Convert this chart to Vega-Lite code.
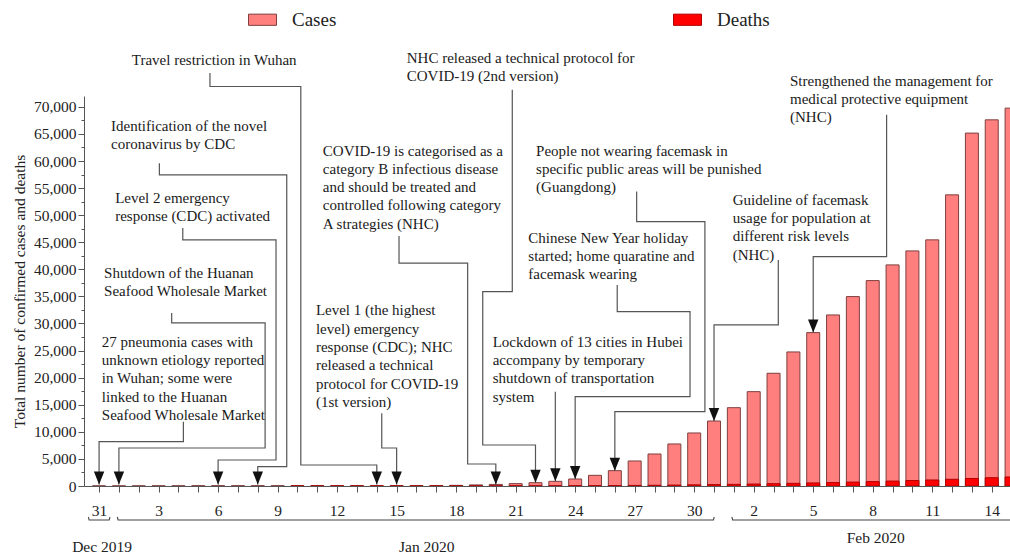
{
  "$schema": "https://vega.github.io/schema/vega-lite/v6.json",
  "width": 926,
  "height": 390,
  "autosize": {"type": "none"},
  "padding": {"left": 84, "top": 96, "right": 0, "bottom": 69},
  "background": "white",
  "config": {
    "view": {"stroke": null},
    "font": "Liberation Serif",
    "text": {"font": "Liberation Serif"},
    "axis": {"labelFont": "Liberation Serif", "titleFont": "Liberation Serif", "labelColor": "#222", "titleColor": "#222", "grid": false}
  },
  "datasets": {
    "daily": [
      {"date": "2019-12-31", "day": 0, "series": "Cases", "value": 27},
      {"date": "2020-01-01", "day": 1, "series": "Cases", "value": 27},
      {"date": "2020-01-02", "day": 2, "series": "Cases", "value": 27},
      {"date": "2020-01-03", "day": 3, "series": "Cases", "value": 44},
      {"date": "2020-01-04", "day": 4, "series": "Cases", "value": 44},
      {"date": "2020-01-05", "day": 5, "series": "Cases", "value": 59},
      {"date": "2020-01-06", "day": 6, "series": "Cases", "value": 59},
      {"date": "2020-01-07", "day": 7, "series": "Cases", "value": 59},
      {"date": "2020-01-08", "day": 8, "series": "Cases", "value": 59},
      {"date": "2020-01-09", "day": 9, "series": "Cases", "value": 59},
      {"date": "2020-01-10", "day": 10, "series": "Cases", "value": 41},
      {"date": "2020-01-11", "day": 11, "series": "Cases", "value": 41},
      {"date": "2020-01-12", "day": 12, "series": "Cases", "value": 41},
      {"date": "2020-01-13", "day": 13, "series": "Cases", "value": 41},
      {"date": "2020-01-14", "day": 14, "series": "Cases", "value": 41},
      {"date": "2020-01-15", "day": 15, "series": "Cases", "value": 41},
      {"date": "2020-01-16", "day": 16, "series": "Cases", "value": 45},
      {"date": "2020-01-17", "day": 17, "series": "Cases", "value": 62},
      {"date": "2020-01-18", "day": 18, "series": "Cases", "value": 121},
      {"date": "2020-01-19", "day": 19, "series": "Cases", "value": 198},
      {"date": "2020-01-20", "day": 20, "series": "Cases", "value": 291},
      {"date": "2020-01-21", "day": 21, "series": "Cases", "value": 440},
      {"date": "2020-01-22", "day": 22, "series": "Cases", "value": 610},
      {"date": "2020-01-23", "day": 23, "series": "Cases", "value": 860},
      {"date": "2020-01-24", "day": 24, "series": "Cases", "value": 1290},
      {"date": "2020-01-25", "day": 25, "series": "Cases", "value": 1970},
      {"date": "2020-01-26", "day": 26, "series": "Cases", "value": 2830},
      {"date": "2020-01-27", "day": 27, "series": "Cases", "value": 4620},
      {"date": "2020-01-28", "day": 28, "series": "Cases", "value": 5910},
      {"date": "2020-01-29", "day": 29, "series": "Cases", "value": 7760},
      {"date": "2020-01-30", "day": 30, "series": "Cases", "value": 9790},
      {"date": "2020-01-31", "day": 31, "series": "Cases", "value": 12000},
      {"date": "2020-02-01", "day": 32, "series": "Cases", "value": 14460},
      {"date": "2020-02-02", "day": 33, "series": "Cases", "value": 17420},
      {"date": "2020-02-03", "day": 34, "series": "Cases", "value": 20810},
      {"date": "2020-02-04", "day": 35, "series": "Cases", "value": 24750},
      {"date": "2020-02-05", "day": 36, "series": "Cases", "value": 28320},
      {"date": "2020-02-06", "day": 37, "series": "Cases", "value": 31580},
      {"date": "2020-02-07", "day": 38, "series": "Cases", "value": 34970},
      {"date": "2020-02-08", "day": 39, "series": "Cases", "value": 37920},
      {"date": "2020-02-09", "day": 40, "series": "Cases", "value": 40820},
      {"date": "2020-02-10", "day": 41, "series": "Cases", "value": 43400},
      {"date": "2020-02-11", "day": 42, "series": "Cases", "value": 45440},
      {"date": "2020-02-12", "day": 43, "series": "Cases", "value": 53750},
      {"date": "2020-02-13", "day": 44, "series": "Cases", "value": 65150},
      {"date": "2020-02-14", "day": 45, "series": "Cases", "value": 67600},
      {"date": "2020-02-15", "day": 46, "series": "Cases", "value": 69760},
      {"date": "2020-01-10", "day": 10, "series": "Deaths", "value": 1},
      {"date": "2020-01-11", "day": 11, "series": "Deaths", "value": 1},
      {"date": "2020-01-12", "day": 12, "series": "Deaths", "value": 1},
      {"date": "2020-01-13", "day": 13, "series": "Deaths", "value": 1},
      {"date": "2020-01-14", "day": 14, "series": "Deaths", "value": 1},
      {"date": "2020-01-15", "day": 15, "series": "Deaths", "value": 2},
      {"date": "2020-01-16", "day": 16, "series": "Deaths", "value": 2},
      {"date": "2020-01-17", "day": 17, "series": "Deaths", "value": 2},
      {"date": "2020-01-18", "day": 18, "series": "Deaths", "value": 3},
      {"date": "2020-01-19", "day": 19, "series": "Deaths", "value": 3},
      {"date": "2020-01-20", "day": 20, "series": "Deaths", "value": 6},
      {"date": "2020-01-21", "day": 21, "series": "Deaths", "value": 9},
      {"date": "2020-01-22", "day": 22, "series": "Deaths", "value": 17},
      {"date": "2020-01-23", "day": 23, "series": "Deaths", "value": 25},
      {"date": "2020-01-24", "day": 24, "series": "Deaths", "value": 41},
      {"date": "2020-01-25", "day": 25, "series": "Deaths", "value": 56},
      {"date": "2020-01-26", "day": 26, "series": "Deaths", "value": 80},
      {"date": "2020-01-27", "day": 27, "series": "Deaths", "value": 106},
      {"date": "2020-01-28", "day": 28, "series": "Deaths", "value": 132},
      {"date": "2020-01-29", "day": 29, "series": "Deaths", "value": 170},
      {"date": "2020-01-30", "day": 30, "series": "Deaths", "value": 213},
      {"date": "2020-01-31", "day": 31, "series": "Deaths", "value": 259},
      {"date": "2020-02-01", "day": 32, "series": "Deaths", "value": 304},
      {"date": "2020-02-02", "day": 33, "series": "Deaths", "value": 361},
      {"date": "2020-02-03", "day": 34, "series": "Deaths", "value": 425},
      {"date": "2020-02-04", "day": 35, "series": "Deaths", "value": 490},
      {"date": "2020-02-05", "day": 36, "series": "Deaths", "value": 563},
      {"date": "2020-02-06", "day": 37, "series": "Deaths", "value": 636},
      {"date": "2020-02-07", "day": 38, "series": "Deaths", "value": 722},
      {"date": "2020-02-08", "day": 39, "series": "Deaths", "value": 811},
      {"date": "2020-02-09", "day": 40, "series": "Deaths", "value": 908},
      {"date": "2020-02-10", "day": 41, "series": "Deaths", "value": 1016},
      {"date": "2020-02-11", "day": 42, "series": "Deaths", "value": 1113},
      {"date": "2020-02-12", "day": 43, "series": "Deaths", "value": 1240},
      {"date": "2020-02-13", "day": 44, "series": "Deaths", "value": 1380},
      {"date": "2020-02-14", "day": 45, "series": "Deaths", "value": 1523},
      {"date": "2020-02-15", "day": 46, "series": "Deaths", "value": 1665}
    ],
    "notes": [
      {"id": "travel", "day": 1.65, "value": 79975, "text": "Travel restriction in Wuhan"},
      {"id": "nhc2", "day": 15.51, "value": 80290, "text": "NHC released a technical protocol for\nCOVID-19 (2nd version)"},
      {"id": "ident", "day": 0.6, "value": 67785, "text": "Identification of the novel\ncoronavirus by CDC"},
      {"id": "level2", "day": 0.81, "value": 54430, "text": "Level 2 emergency\nresponse (CDC) activated"},
      {"id": "shutdown", "day": 0.25, "value": 40690, "text": "Shutdown of the Huanan\nSeafood Wholesale Market"},
      {"id": "pneumonia", "day": 0.14, "value": 27945, "text": "27 pneumonia cases with\nunknown etiology reported\nin Wuhan;  some were\nlinked to the Huanan\nSeafood Wholesale Market"},
      {"id": "level1", "day": 10.93, "value": 33710, "text": "Level 1 (the highest\nlevel) emergency\nresponse (CDC); NHC\nreleased a technical\nprotocol for COVID-19\n(1st version)"},
      {"id": "covidB", "day": 11.28, "value": 63225, "text": "COVID-19 is categorised as a\ncategory B infectious disease\nand should be treated and\ncontrolled following category\nA strategies (NHC)"},
      {"id": "people", "day": 22.03, "value": 63170, "text": "People not wearing facemask in\nspecific public areas will be punished\n(Guangdong)"},
      {"id": "cny", "day": 21.64, "value": 47155, "text": "Chinese New Year holiday\nstarted;  home quaratine and\nfacemask wearing"},
      {"id": "lockdown", "day": 19.84, "value": 27945, "text": "Lockdown of 13 cities in Hubei\naccompany by temporary\nshutdown of transportation\nsystem"},
      {"id": "guide", "day": 31.94, "value": 54120, "text": "Guideline of facemask\nusage for population at\ndifferent risk levels\n(NHC)"},
      {"id": "strength", "day": 34.83, "value": 76150, "text": "Strengthened the management for\nmedical protective equipment\n(NHC)"}
    ],
    "links": [
      {"id": "travel", "seq": 1, "day": 5.59, "value": 76226},
      {"id": "travel", "seq": 2, "day": 5.59, "value": 73750},
      {"id": "travel", "seq": 3, "day": 10.17, "value": 73750},
      {"id": "travel", "seq": 4, "day": 10.17, "value": 3880},
      {"id": "travel", "seq": 5, "day": 14, "value": 3880},
      {"id": "travel", "seq": 6, "day": 14, "value": 300},
      {"id": "ident", "seq": 1, "day": 3.04, "value": 59600},
      {"id": "ident", "seq": 2, "day": 3.04, "value": 57440},
      {"id": "ident", "seq": 3, "day": 9.46, "value": 57440},
      {"id": "ident", "seq": 4, "day": 9.46, "value": 3565},
      {"id": "ident", "seq": 5, "day": 8, "value": 3565},
      {"id": "ident", "seq": 6, "day": 8, "value": 300},
      {"id": "level2", "seq": 1, "day": 4.22, "value": 47650},
      {"id": "level2", "seq": 2, "day": 4.22, "value": 45440},
      {"id": "level2", "seq": 3, "day": 8.92, "value": 45440},
      {"id": "level2", "seq": 4, "day": 8.92, "value": 4800},
      {"id": "level2", "seq": 5, "day": 6, "value": 4800},
      {"id": "level2", "seq": 6, "day": 6, "value": 300},
      {"id": "shutdown", "seq": 1, "day": 3.66, "value": 31950},
      {"id": "shutdown", "seq": 2, "day": 3.66, "value": 30100},
      {"id": "shutdown", "seq": 3, "day": 8.37, "value": 30100},
      {"id": "shutdown", "seq": 4, "day": 8.37, "value": 7020},
      {"id": "shutdown", "seq": 5, "day": 1, "value": 7020},
      {"id": "shutdown", "seq": 6, "day": 1, "value": 300},
      {"id": "pneumonia", "seq": 1, "day": 4.25, "value": 11876},
      {"id": "pneumonia", "seq": 2, "day": 4.25, "value": 8180},
      {"id": "pneumonia", "seq": 3, "day": 0, "value": 8180},
      {"id": "pneumonia", "seq": 4, "day": 0, "value": 300},
      {"id": "level1", "seq": 1, "day": 14.25, "value": 13430},
      {"id": "level1", "seq": 2, "day": 14.25, "value": 7020},
      {"id": "level1", "seq": 3, "day": 15, "value": 7020},
      {"id": "level1", "seq": 4, "day": 15, "value": 300},
      {"id": "covidB", "seq": 1, "day": 15.12, "value": 46175},
      {"id": "covidB", "seq": 2, "day": 15.12, "value": 41130},
      {"id": "covidB", "seq": 3, "day": 18.58, "value": 41130},
      {"id": "covidB", "seq": 4, "day": 18.58, "value": 4060},
      {"id": "covidB", "seq": 5, "day": 20, "value": 4060},
      {"id": "covidB", "seq": 6, "day": 20, "value": 300},
      {"id": "nhc2", "seq": 1, "day": 20.83, "value": 73140},
      {"id": "nhc2", "seq": 2, "day": 20.83, "value": 35890},
      {"id": "nhc2", "seq": 3, "day": 19.34, "value": 35890},
      {"id": "nhc2", "seq": 4, "day": 19.34, "value": 7570},
      {"id": "nhc2", "seq": 5, "day": 22, "value": 7570},
      {"id": "nhc2", "seq": 6, "day": 22, "value": 610},
      {"id": "lockdown", "seq": 1, "day": 23, "value": 17420},
      {"id": "lockdown", "seq": 2, "day": 23, "value": 860},
      {"id": "cny", "seq": 1, "day": 26.12, "value": 37125},
      {"id": "cny", "seq": 2, "day": 26.12, "value": 32190},
      {"id": "cny", "seq": 3, "day": 29.79, "value": 32190},
      {"id": "cny", "seq": 4, "day": 29.79, "value": 16490},
      {"id": "cny", "seq": 5, "day": 24, "value": 16490},
      {"id": "cny", "seq": 6, "day": 24, "value": 1290},
      {"id": "people", "seq": 1, "day": 27.1, "value": 54360},
      {"id": "people", "seq": 2, "day": 27.1, "value": 48815},
      {"id": "people", "seq": 3, "day": 30.54, "value": 48815},
      {"id": "people", "seq": 4, "day": 30.54, "value": 13720},
      {"id": "people", "seq": 5, "day": 26, "value": 13720},
      {"id": "people", "seq": 6, "day": 26, "value": 2830},
      {"id": "guide", "seq": 1, "day": 34.24, "value": 41740},
      {"id": "guide", "seq": 2, "day": 34.24, "value": 29740},
      {"id": "guide", "seq": 3, "day": 31, "value": 29740},
      {"id": "guide", "seq": 4, "day": 31, "value": 12000},
      {"id": "strength", "seq": 1, "day": 39.7, "value": 68520},
      {"id": "strength", "seq": 2, "day": 39.7, "value": 42350},
      {"id": "strength", "seq": 3, "day": 36, "value": 42350},
      {"id": "strength", "seq": 4, "day": 36, "value": 28320}
    ],
    "arrows": [
      {"day": 0, "value": 300},
      {"day": 1, "value": 300},
      {"day": 6, "value": 300},
      {"day": 8, "value": 300},
      {"day": 14, "value": 300},
      {"day": 15, "value": 300},
      {"day": 20, "value": 300},
      {"day": 22, "value": 610},
      {"day": 23, "value": 860},
      {"day": 24, "value": 1290},
      {"day": 26, "value": 2830},
      {"day": 31, "value": 12000},
      {"day": 36, "value": 28320}
    ],
    "brackets": [
      {"id": "dec", "seq": 1, "day": -0.54, "value": -5725},
      {"id": "dec", "seq": 2, "day": -0.5, "value": -6280},
      {"id": "dec", "seq": 3, "day": 0.51, "value": -6280},
      {"id": "dec", "seq": 4, "day": 0.55, "value": -5725},
      {"id": "jan", "seq": 1, "day": 0.92, "value": -5725},
      {"id": "jan", "seq": 2, "day": 0.96, "value": -6280},
      {"id": "jan", "seq": 3, "day": 30.97, "value": -6280},
      {"id": "jan", "seq": 4, "day": 31.01, "value": -5725},
      {"id": "feb", "seq": 1, "day": 31.9, "value": -5725},
      {"id": "feb", "seq": 2, "day": 31.94, "value": -6280},
      {"id": "feb", "seq": 3, "day": 47, "value": -6280}
    ],
    "months": [
      {"day": 0.15, "value": -11210, "text": "Dec 2019"},
      {"day": 16.52, "value": -11210, "text": "Jan 2020"},
      {"day": 39.15, "value": -9660, "text": "Feb 2020"}
    ]
  },
  "encoding": {
    "x": {
      "field": "day", "type": "quantitative",
      "scale": {"domain": [-0.76, 45.92], "nice": false, "zero": false, "padding": 0},
      "axis": {
        "title": null,
        "values": [0,1,2,3,4,5,6,7,8,9,10,11,12,13,14,15,16,17,18,19,20,21,22,23,24,25,26,27,28,29,30,31,32,33,34,35,36,37,38,39,40,41,42,43,44,45],
        "labelExpr": "datum.value % 3 != 0 ? '' : (datum.value == 0 ? '31' : (datum.value <= 31 ? '' + datum.value : '' + (datum.value - 31)))",
        "labelOverlap": false,
        "labelFlush": false,
        "labelFontSize": 15.5,
        "labelPadding": 11,
        "tickSize": 6,
        "tickColor": "#555",
        "domainColor": "#555"
      }
    },
    "y": {
      "field": "value", "type": "quantitative",
      "stack": null,
      "scale": {"domain": [0, 72000], "nice": false, "padding": 0},
      "axis": {
        "title": "Total number of confirmed cases and deaths",
        "titleFontSize": 15.5,
        "titleFontWeight": "normal",
        "titlePadding": 6,
        "values": [0,2500,5000,7500,10000,12500,15000,17500,20000,22500,25000,27500,30000,32500,35000,37500,40000,42500,45000,47500,50000,52500,55000,57500,60000,62500,65000,67500,70000],
        "labelExpr": "datum.value % 5000 == 0 ? format(datum.value, ',') : ''",
        "tickSize": {"condition": {"test": "datum.value % 5000 != 0", "value": 3}, "value": 6},
        "labelOverlap": false,
        "labelFontSize": 15.5,
        "labelPadding": 2,
        "tickColor": "#555",
        "domainColor": "#555"
      }
    }
  },
  "layer": [
    {
      "data": {"name": "daily"},
      "mark": {"type": "bar", "width": 13, "strokeWidth": 1, "clip": true},
      "encoding": {
        "color": {
          "field": "series", "type": "nominal",
          "scale": {"domain": ["Cases", "Deaths"], "range": ["#FF7F7F", "#FF0000"]},
          "legend": {
            "orient": "none",
            "legendX": 164,
            "legendY": -91,
            "direction": "horizontal",
            "title": null,
            "padding": 0,
            "symbolType": "M-1,-0.4H1V0.4H-1Z",
            "symbolSize": 784,
            "symbolStrokeColor": "#7F3F3F",
            "symbolStrokeWidth": 1,
            "symbolOpacity": 1,
            "labelFont": "Liberation Serif",
            "labelFontSize": 19,
            "labelColor": "#222",
            "labelOffset": 15,
            "columnPadding": 334
          }
        },
        "stroke": {
          "field": "series", "type": "nominal",
          "scale": {"domain": ["Cases", "Deaths"], "range": ["#7F3F3F", "#B00000"]},
          "legend": null
        }
      }
    },
    {
      "data": {"name": "brackets"},
      "mark": {"type": "line", "color": "#444", "strokeWidth": 1.1},
      "encoding": {
        "detail": {"field": "id"},
        "order": {"field": "seq"}
      }
    },
    {
      "data": {"name": "months"},
      "mark": {"type": "text", "fontSize": 15.5, "color": "#222", "align": "center", "baseline": "middle"},
      "encoding": {
        "text": {"field": "text"}
      }
    },
    {
      "data": {"name": "links"},
      "mark": {"type": "line", "color": "#555", "strokeWidth": 1.2},
      "encoding": {
        "detail": {"field": "id"},
        "order": {"field": "seq"}
      }
    },
    {
      "data": {"name": "arrows"},
      "mark": {"type": "point", "shape": "M0,0L-0.8,-2L0.8,-2Z", "size": 169, "filled": true, "color": "#111", "opacity": 1},
      "encoding": {}
    },
    {
      "data": {"name": "notes"},
      "mark": {"type": "text", "fontSize": 15, "color": "#1a1a1a", "align": "left", "baseline": "top", "lineBreak": "\n", "lineHeight": 18.3},
      "encoding": {
        "text": {"field": "text"}
      }
    }
  ]
}
